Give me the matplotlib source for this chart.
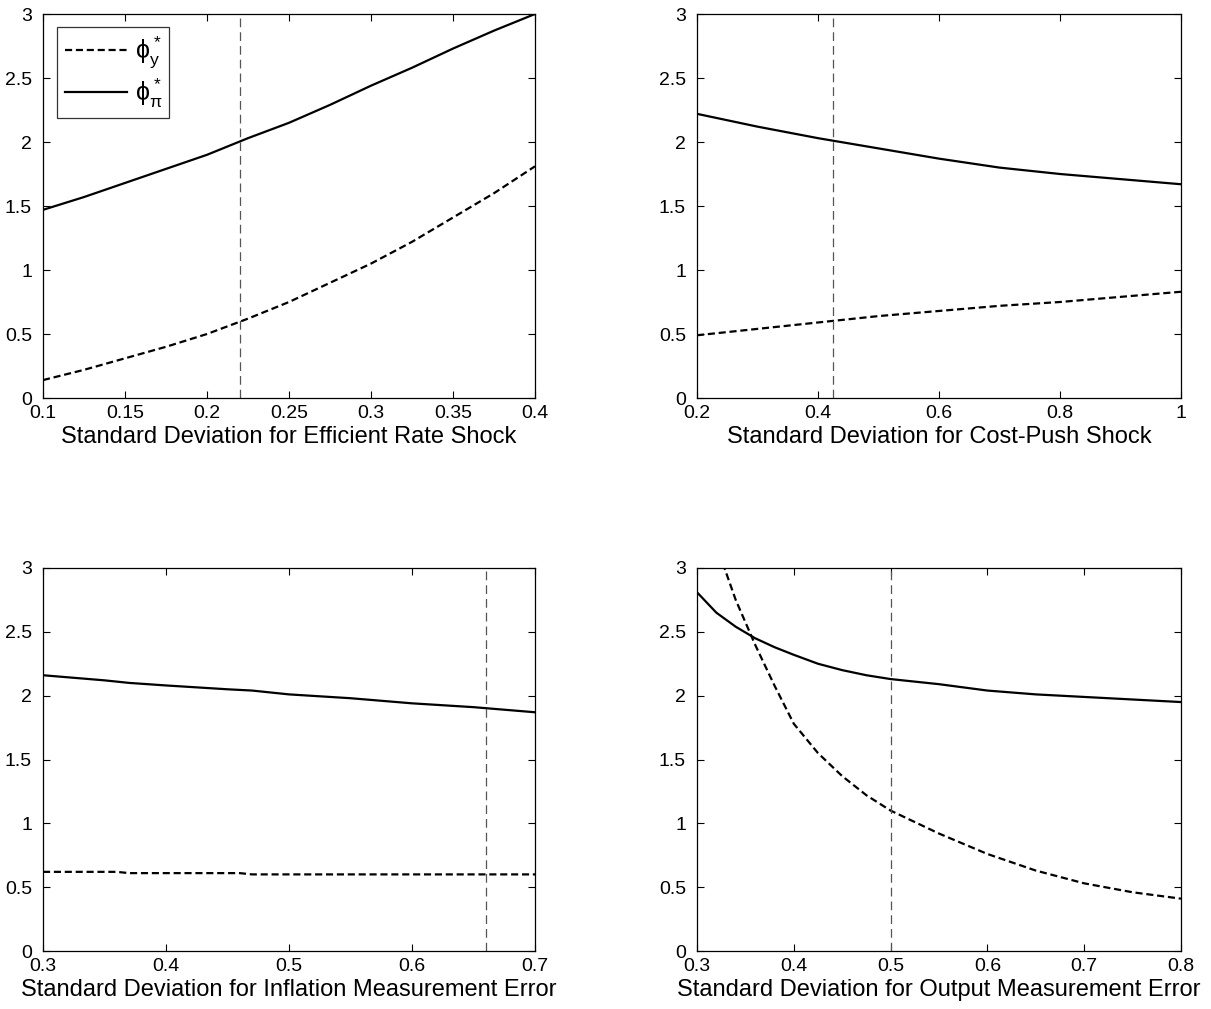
import matplotlib
matplotlib.use("Agg")
import matplotlib.pyplot as plt

plt.rcParams['font.family'] = ['Liberation Sans', 'DejaVu Sans']
plt.rcParams['mathtext.fontset'] = 'custom'
plt.rcParams['mathtext.rm'] = 'Liberation Sans'
plt.rcParams['mathtext.it'] = 'Liberation Sans'

# Panel 1: efficient rate shock
x1 = [0.100, 0.125, 0.150, 0.175, 0.200, 0.225, 0.250, 0.275, 0.300, 0.325, 0.350, 0.375, 0.400]
pi1 = [1.47, 1.57, 1.68, 1.79, 1.90, 2.03, 2.15, 2.29, 2.44, 2.58, 2.73, 2.87, 3.00]
y1 = [0.14, 0.22, 0.31, 0.40, 0.50, 0.62, 0.75, 0.90, 1.05, 1.22, 1.41, 1.60, 1.81]
v1 = 0.22

# Panel 2: cost-push shock
x2 = [0.2, 0.3, 0.4, 0.5, 0.6, 0.7, 0.8, 0.9, 1.0]
pi2 = [2.22, 2.12, 2.03, 1.95, 1.87, 1.80, 1.75, 1.71, 1.67]
y2 = [0.49, 0.54, 0.59, 0.64, 0.68, 0.72, 0.75, 0.79, 0.83]
v2 = 0.425

# Panel 3: inflation measurement error
x3 = [0.30, 0.35, 0.36, 0.37, 0.40, 0.45, 0.46, 0.47, 0.50, 0.55, 0.60, 0.65, 0.70]
pi3 = [2.16, 2.12, 2.11, 2.10, 2.08, 2.05, 2.045, 2.04, 2.01, 1.98, 1.94, 1.91, 1.87]
y3 = [0.62, 0.62, 0.62, 0.61, 0.61, 0.61, 0.61, 0.60, 0.60, 0.60, 0.60, 0.60, 0.60]
v3 = 0.66

# Panel 4: output measurement error
x4 = [0.30, 0.32, 0.34, 0.36, 0.38, 0.40, 0.425, 0.45, 0.475, 0.50, 0.55, 0.60, 0.65, 0.70, 0.75, 0.80]
pi4 = [2.81, 2.65, 2.54, 2.45, 2.38, 2.32, 2.25, 2.20, 2.16, 2.13, 2.09, 2.04, 2.01, 1.99, 1.97, 1.95]
y4 = [3.60, 3.18, 2.75, 2.40, 2.08, 1.78, 1.55, 1.37, 1.22, 1.10, 0.92, 0.76, 0.63, 0.53, 0.46, 0.41]
v4 = 0.5

xlabels = ["Standard Deviation for Efficient Rate Shock",
           "Standard Deviation for Cost-Push Shock",
           "Standard Deviation for Inflation Measurement Error",
           "Standard Deviation for Output Measurement Error"]
xticks = [[0.1, 0.15, 0.2, 0.25, 0.3, 0.35, 0.4],
          [0.2, 0.4, 0.6, 0.8, 1.0],
          [0.3, 0.4, 0.5, 0.6, 0.7],
          [0.3, 0.4, 0.5, 0.6, 0.7, 0.8]]
xlims = [(0.1, 0.4), (0.2, 1.0), (0.3, 0.7), (0.3, 0.8)]
yticks = [0, 0.5, 1, 1.5, 2, 2.5, 3]

def fmt(v):
    return "%g" % v

fig = plt.figure(figsize=(12.11, 10.09), dpi=100)
rects = [(43/1211, 1-398/1009, 492/1211, 384/1009),
         (697/1211, 1-398/1009, 484/1211, 384/1009),
         (43/1211, 1-951/1009, 492/1211, 383/1009),
         (697/1211, 1-951/1009, 484/1211, 383/1009)]
data = [(x1, y1, pi1, v1), (x2, y2, pi2, v2), (x3, y3, pi3, v3), (x4, y4, pi4, v4)]

for i, (r, (xs, ys, ps, v)) in enumerate(zip(rects, data)):
    ax = fig.add_axes(r)
    ly, = ax.plot(xs, ys, color='black', lw=1.6, linestyle=(0, (3.2, 1.7)))
    lp, = ax.plot(xs, ps, color='black', lw=1.6, linestyle='-')
    ax.axvline(v, color='#555555', lw=0.9, linestyle=(0, (7, 4)))
    ax.set_xlim(*xlims[i])
    ax.set_ylim(0, 3)
    ax.set_xticks(xticks[i])
    ax.set_xticklabels([fmt(t) for t in xticks[i]])
    ax.set_yticks(yticks)
    ax.set_yticklabels([fmt(t) for t in yticks])
    ax.tick_params(direction='in', top=True, right=True, length=5, width=0.8,
                   labelsize=14)
    ax.tick_params(axis='x', pad=5)
    ax.tick_params(axis='y', pad=8)
    for s in ax.spines.values():
        s.set_linewidth(0.9)
    ax.set_xlabel(xlabels[i], fontsize=17, labelpad=3)
    if i == 0:
        leg = ax.legend([ly, lp], [r'$\phi_y^*$', r'$\phi_\pi^*$'], loc='upper left',
                        fontsize=18, frameon=True, fancybox=False, edgecolor='black',
                        handlelength=2.5, handletextpad=0.3, borderpad=0.3,
                        labelspacing=0.25, borderaxespad=0,
                        bbox_to_anchor=(0.0285, 0.966))
        leg.get_frame().set_linewidth(0.9)

fig.savefig("out.png", dpi=100, facecolor='white')
